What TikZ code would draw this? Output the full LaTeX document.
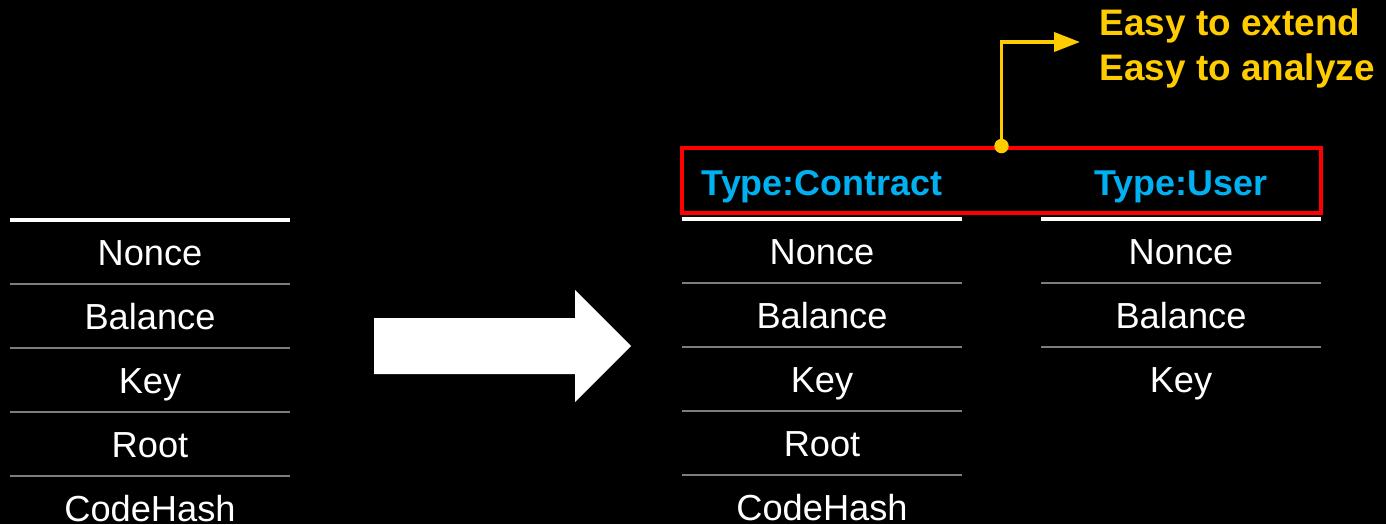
\documentclass[tikz,border=0pt]{standalone}
\usepackage{fontspec}
\setmainfont{Liberation Sans}
\usetikzlibrary{positioning,arrows.meta}
\definecolor{typeblue}{RGB}{0,176,240}
\definecolor{noteyellow}{RGB}{255,204,0}
\definecolor{rulegray}{RGB}{125,125,125}

\begin{document}
\begin{tikzpicture}[x=0.01cm, y=-0.01cm,
        field/.style={minimum width=2.8cm, minimum height=0.64cm, inner sep=0pt, outer sep=0pt, text=white,
            font=\fontsize{10.3}{12}\selectfont, text height=7.4pt, text depth=0pt},
        typelabel/.style={inner sep=0pt, text=typeblue, font=\bfseries\fontsize{10.2}{12}\selectfont,
            text height=7.3pt, text depth=0pt},
        notetext/.style={inner sep=0pt, text=noteyellow, align=left,
            font=\bfseries\fontsize{10.5}{12.8}\selectfont},
        sep/.style={draw=rulegray, line width=0.6pt},
        topline/.style={draw=white, line width=1.1pt},
        noteline/.style={draw=noteyellow, line width=1.1pt, -{Triangle[length=0.26cm, width=0.19cm]}}
    ]
    \useasboundingbox[fill=black] (0,0) rectangle (1386,524);

    % Old account
    \node[field] (old_nonce) at (150,252) {Nonce};
    \node[field, below=0pt of old_nonce] (old_balance) {Balance};
    \node[field, below=0pt of old_balance] (old_key) {Key};
    \node[field, below=0pt of old_key] (old_root) {Root};
    \node[field, below=0pt of old_root] (old_codehash) {CodeHash};
    \draw[topline] (old_nonce.north west) -- (old_nonce.north east);
    \foreach \n in {old_nonce, old_balance, old_key, old_root}
        \draw[sep] (\n.south west) -- (\n.south east);

    % Split
    \fill[white] (374,318) -- (575,318) -- (575,290) -- (631,346) -- (575,402) -- (575,374) -- (374,374) -- cycle;

    % Contract account
    \node[field] (con_nonce) at (822,251) {Nonce};
    \node[field, below=0pt of con_nonce] (con_balance) {Balance};
    \node[field, below=0pt of con_balance] (con_key) {Key};
    \node[field, below=0pt of con_key] (con_root) {Root};
    \node[field, below=0pt of con_root] (con_codehash) {CodeHash};
    \draw[topline] (con_nonce.north west) -- (con_nonce.north east);
    \foreach \n in {con_nonce, con_balance, con_key, con_root}
        \draw[sep] (\n.south west) -- (\n.south east);

    % User account
    \node[field] (usr_nonce) at (1181,251) {Nonce};
    \node[field, below=0pt of usr_nonce] (usr_balance) {Balance};
    \node[field, below=0pt of usr_balance] (usr_key) {Key};
    \draw[topline] (usr_nonce.north west) -- (usr_nonce.north east);
    \foreach \n in {usr_nonce, usr_balance}
        \draw[sep] (\n.south west) -- (\n.south east);

    % Types
    \node[typelabel] (type_con) at (822,183) {Type:Contract};
    \node[typelabel] (type_usr) at (1181,183) {Type:User};
    \node[draw=red, line width=1.1pt, minimum width=6.39cm, minimum height=0.65cm, inner sep=0pt]
        (typebox) at (1001.5,180.5) {};

    % Benefits
    \coordinate (note_tip) at (1080,42);
    \draw[noteline] (typebox.north) |- (note_tip);
    \fill[noteyellow] (typebox.north) circle (0.072cm);
    \node[notetext, anchor=north west] (benefits) at (1099,8) {Easy to extend\\Easy to analyze};
\end{tikzpicture}
\end{document}
